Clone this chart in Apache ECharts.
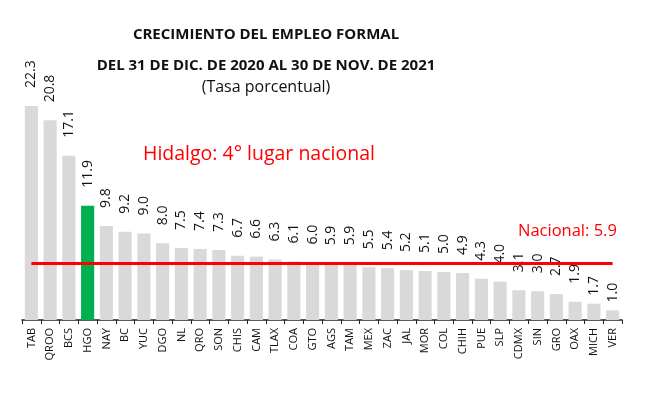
<!DOCTYPE html>
<html><head><meta charset="utf-8">
<script src="https://cdn.jsdelivr.net/npm/echarts@6/dist/echarts.min.js"></script>
<style>html,body{margin:0;padding:0;background:#fff}#c{width:649px;height:394px}</style>
</head><body><div id="c"></div>
<script>
const categories = ['TAB','QROO','BCS','HGO','NAY','BC','YUC','DGO','NL','QRO','SON','CHIS','CAM','TLAX','COA','GTO','AGS','TAM','MEX','ZAC','JAL','MOR','COL','CHIH','PUE','SLP','CDMX','SIN','GRO','OAX','MICH','VER'];
const values = [22.3,20.8,17.1,11.9,9.8,9.2,9.0,8.0,7.5,7.4,7.3,6.7,6.6,6.3,6.1,6.0,5.9,5.9,5.5,5.4,5.2,5.1,5.0,4.9,4.3,4.0,3.1,3.0,2.7,1.9,1.7,1.0];
const highlight = 'HGO';
const nationalValue = 5.9;
const titleLines = ['CRECIMIENTO DEL EMPLEO FORMAL','DEL 31 DE DIC. DE 2020 AL 30 DE NOV. DE 2021','(Tasa porcentual)'];

const chart = echarts.init(document.getElementById('c'), null, {renderer:'canvas'});
const FONT = '"Open Sans", "Liberation Sans", sans-serif';
const closeLabels = ['MICH','VER'];
chart.setOption({
  animation:false,
  backgroundColor:'#fff',
  graphic:[
    {type:'text', x:266, y:27, style:{text:titleLines[0], fontFamily:FONT, fontWeight:'bold', fontSize:15, fill:'#111', textAlign:'center'}},
    {type:'text', x:266, y:58, style:{text:titleLines[1], fontFamily:FONT, fontWeight:'bold', fontSize:15, fill:'#111', textAlign:'center'}},
    {type:'text', x:266, y:79, style:{text:titleLines[2], fontFamily:FONT, fontSize:16, fill:'#111', textAlign:'center'}},
    {type:'text', x:143, y:144, style:{text:'Hidalgo: 4° lugar nacional', fontFamily:FONT, fontSize:19.5, fill:'#ff0000'}},
    {type:'text', x:518, y:223, style:{text:'Nacional: ' + nationalValue.toFixed(1), fontFamily:FONT, fontSize:16.5, fill:'#ff0000'}}
  ],
  grid:{left:22, right:27, top:80, bottom:74},
  xAxis:{type:'category', data:categories,
    axisLine:{lineStyle:{color:'#222', width:1.5}},
    axisTick:{show:true, alignWithLabel:false, length:4, lineStyle:{color:'#222'}},
    axisLabel:{rotate:90, interval:0, fontFamily:FONT, fontSize:11, color:'#111', margin:8}},
  yAxis:{type:'value', min:0, max:25, show:false, splitLine:{show:false}},
  series:[{
    type:'bar', barCategoryGap:'30%',
    data: values.map((v,i)=>({value:v,
      itemStyle:{color: categories[i]===highlight ? '#00b050' : '#d9d9d9'},
      label: closeLabels.includes(categories[i]) ? {distance:8} : undefined})),
    label:{show:true, position:'top', rotate:90, align:'left', verticalAlign:'middle', distance:18, fontFamily:FONT, fontSize:14, color:'#111', formatter:p=>p.value.toFixed(1)},
    markLine:{symbol:'none', silent:true, label:{show:false},
      lineStyle:{color:'#ff0000', width:3, type:'solid'},
      data:[[{coord:[categories[0], nationalValue]},{coord:[categories[categories.length-1], nationalValue]}]]}
  }]
});
</script></body></html>
